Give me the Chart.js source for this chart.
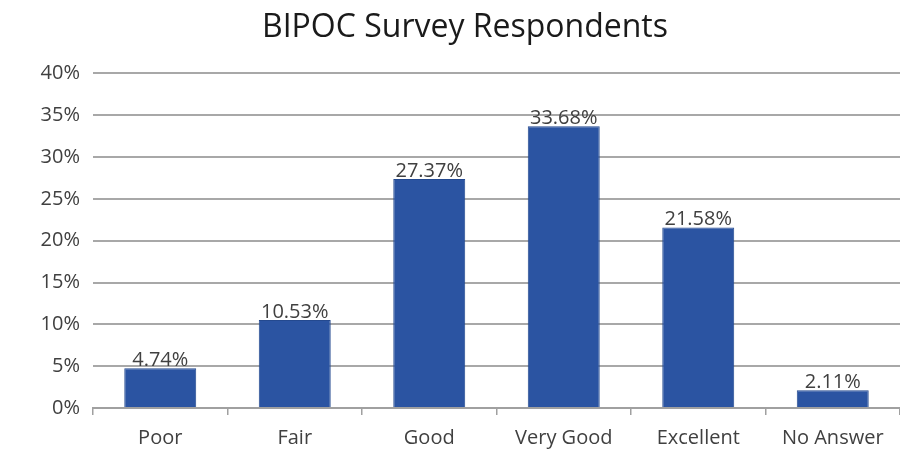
<!DOCTYPE html>
<html><head><meta charset="utf-8">
<script src="https://cdn.jsdelivr.net/npm/chart.js@4/dist/chart.umd.min.js"></script>
<style>html,body{margin:0;padding:0;background:#fff}#wrap{width:900px;height:449px}</style>
</head><body><div id="wrap"><canvas id="c" width="900" height="449"></canvas></div>
<script>
const categories = ["Poor", "Fair", "Good", "Very Good", "Excellent", "No Answer"];
const values = [4.74, 10.53, 27.37, 33.68, 21.58, 2.11];
const yTicks = [0, 5, 10, 15, 20, 25, 30, 35, 40];

const labelPlugin = {
  id: 'barLabels',
  afterDatasetsDraw(chart) {
    const ctx = chart.ctx;
    const meta = chart.getDatasetMeta(0);
    ctx.save();
    ctx.font = '20px "Open Sans", sans-serif';
    ctx.fillStyle = '#404040';
    ctx.textAlign = 'center';
    ctx.textBaseline = 'bottom';
    meta.data.forEach((bar, i) => {
      ctx.fillText(values[i].toFixed(2) + '%', bar.x, bar.y + 2);
    });
    ctx.restore();
  }
};

new Chart(document.getElementById('c'), {
  type: 'bar',
  data: {
    labels: categories,
    datasets: [{
      data: values,
      backgroundColor: '#2B54A2',
      borderColor: '#24498F',
      borderWidth: 1,
      barPercentage: 0.535,
      categoryPercentage: 1.0
    }]
  },
  options: {
    responsive: false,
    animation: false,
    layout: { padding: { left: 30, right: 0, top: 0, bottom: 0 } },
    plugins: {
      legend: { display: false },
      tooltip: { enabled: false },
      title: {
        display: true,
        text: 'BIPOC Survey Respondents',
        color: '#1a1a1a',
        font: { family: '"Open Sans", sans-serif', size: 32, weight: 'normal' },
        padding: { top: 9, bottom: 26 }
      }
    },
    scales: {
      x: {
        grid: { display: true, drawOnChartArea: false, drawTicks: true, tickLength: 7, color: '#A0A0A0', lineWidth: 1.5, offset: true },
        border: { display: true, color: '#A0A0A0', width: 2 },
        ticks: { color: '#404040', font: { family: '"Open Sans", sans-serif', size: 20 }, padding: 11 },
        afterFit(s) { s.height = 41; }
      },
      y: {
        min: 0, max: 40,
        afterBuildTicks(s) { s.ticks = yTicks.map(v => ({ value: v })); },
        grid: { color: '#A8A8A8', lineWidth: 2, drawTicks: false },
        border: { display: false },
        ticks: { color: '#404040', font: { family: '"Open Sans", sans-serif', size: 20 }, padding: 13, callback: v => v + '%' },
        afterFit(s) { s.width = 63; }
      }
    }
  },
  plugins: [labelPlugin]
});
</script></body></html>
